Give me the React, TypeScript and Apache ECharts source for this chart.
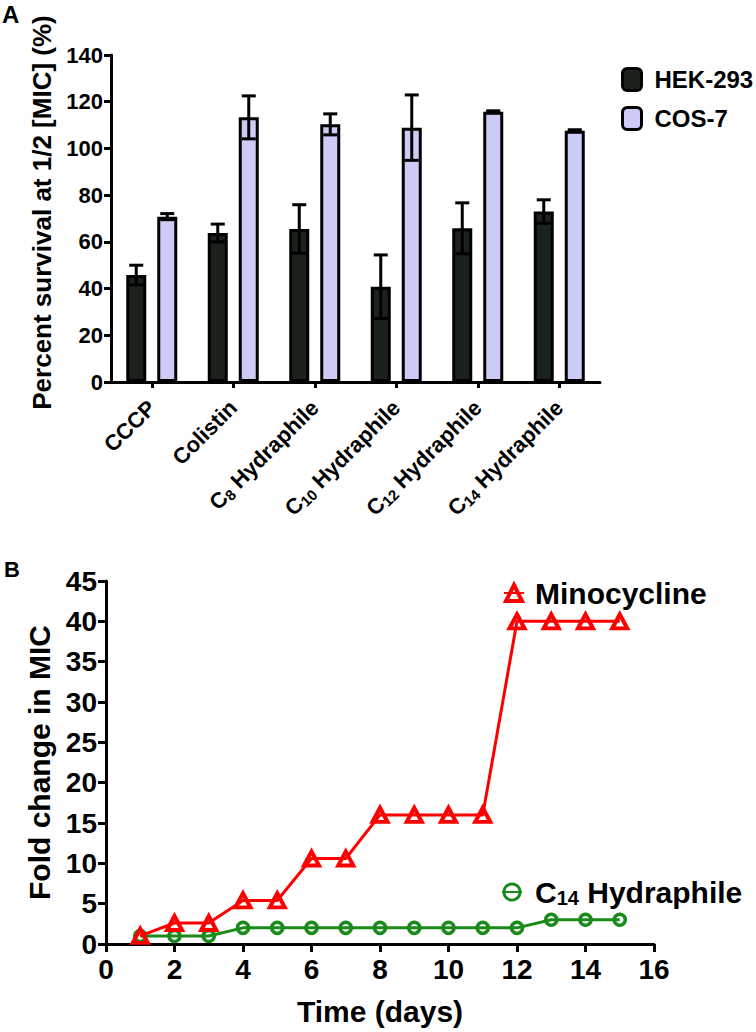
import React, { useEffect, useRef } from "react";
import * as echarts from "echarts";

const FONT = '"Liberation Sans", Arial, Helvetica, sans-serif';

// Panel A data
const categories = ["CCCP", "Colistin", "C8 Hydraphile", "C10 Hydraphile", "C12 Hydraphile", "C14 Hydraphile"];
const hekMean = [45.8, 63.8, 65.5, 40.8, 65.8, 73.0];
const hekErr = [4.2, 3.8, 10.4, 13.6, 10.9, 5.0];
const cosMean = [70.8, 113.3, 110.3, 108.9, 115.7, 107.6];
const cosErr = [1.3, 9.2, 4.5, 14.0, 0.4, 0.4];

// Panel B data
const days = [1, 2, 3, 4, 5, 6, 7, 8, 9, 10, 11, 12, 13, 14, 15];
const minocycline = [1, 2.6, 2.6, 5.4, 5.4, 10.6, 10.6, 16, 16, 16, 16, 40, 40, 40, 40];
const c14Hydraphile = [1, 1, 1, 2, 2, 2, 2, 2, 2, 2, 2, 2, 3, 3, 3];

const catFormatter = (v: string) => {
  const m = v.match(/^C(\d+) (.*)$/);
  if (m) return `{b|C}{s|${m[1]}}{b| ${m[2]}}`;
  return `{b|${v}}`;
};

function errorSeries(name: string, mean: number[], err: number[], offset: number) {
  return {
    type: "custom",
    name,
    xAxisIndex: 0,
    yAxisIndex: 0,
    z: 5,
    data: mean.map((m, i) => [i, m - err[i], m + err[i]]),
    encode: { x: 0, y: [1, 2] },
    renderItem: (params: any, api: any) => {
      const idx = api.value(0);
      const lo = api.coord([idx, api.value(1)]);
      const hi = api.coord([idx, api.value(2)]);
      const x = lo[0] + offset;
      const cap = 7;
      const style = { stroke: "#000", lineWidth: 3 };
      return {
        type: "group",
        children: [
          { type: "line", shape: { x1: x, y1: lo[1], x2: x, y2: hi[1] }, style },
          { type: "line", shape: { x1: x - cap, y1: lo[1], x2: x + cap, y2: lo[1] }, style },
          { type: "line", shape: { x1: x - cap, y1: hi[1], x2: x + cap, y2: hi[1] }, style },
        ],
      };
    },
  };
}

const axisLine = { show: true, lineStyle: { color: "#000", width: 3 } };

export default function App() {
  const ref = useRef<HTMLDivElement>(null);
  useEffect(() => {
    document.body.style.margin = "0";
    const chart = echarts.init(ref.current!, null, { renderer: "svg" });
    const option: any = {
      animation: false,
      backgroundColor: "#fff",
      textStyle: { fontFamily: FONT },
      graphic: [
        { type: "text", left: 2, top: 2, style: { text: "A", fontSize: 24, fontWeight: "bold", fontFamily: FONT, fill: "#000" } },
        { type: "text", left: 4, top: 558, style: { text: "B", fontSize: 22, fontWeight: "bold", fontFamily: FONT, fill: "#000" } },
      ],
      grid: [
        { left: 111, top: 55, width: 489, height: 327 },
        { left: 106, top: 581, width: 548, height: 363 },
      ],
      legend: [
        {
          data: ["HEK-293", "COS-7"],
          orient: "vertical",
          left: 616,
          top: 62,
          icon: "roundRect",
          itemWidth: 19,
          itemHeight: 22,
          itemGap: 14,
          itemStyle: { borderColor: "#000", borderWidth: 3 },
          textStyle: { fontSize: 24, fontWeight: "bold", fontFamily: FONT, color: "#000", lineHeight: 24, padding: [0, 0, 0, 8] },
        },
        {
          data: ["Minocycline"],
          left: 498,
          top: 572,
          itemWidth: 20,
          itemHeight: 20,
          itemStyle: { borderWidth: 4 },
          textStyle: { fontSize: 30, fontWeight: "bold", fontFamily: FONT, color: "#000", lineHeight: 32, padding: [0, 0, 0, 6] },
        },
        {
          data: ["C14 Hydraphile"],
          left: 496,
          top: 872,
          itemWidth: 20,
          itemHeight: 20,
          itemStyle: { borderWidth: 3 },
          formatter: () => "{n|C}{s|14}{n| Hydraphile}",
          textStyle: {
            color: "#000",
            padding: [0, 0, 0, 8],
            rich: {
              n: { fontSize: 30, fontWeight: "bold", fontFamily: FONT, color: "#000", lineHeight: 32 },
              s: { fontSize: 20, fontWeight: "bold", fontFamily: FONT, color: "#000", lineHeight: 20, verticalAlign: "bottom", padding: [2, 0, 0, 0] },
            },
          },
        },
      ],
      xAxis: [
        {
          type: "category",
          gridIndex: 0,
          data: categories,
          axisLine,
          axisTick: { show: true, alignWithLabel: true, length: 6, lineStyle: { color: "#000", width: 3 } },
          axisLabel: {
            rotate: 45,
            margin: 22,
            formatter: catFormatter,
            rich: {
              b: { fontSize: 22, fontWeight: "bold", fontFamily: FONT, color: "#000", lineHeight: 24 },
              s: { fontSize: 15, fontWeight: "bold", fontFamily: FONT, color: "#000", lineHeight: 15, verticalAlign: "bottom", padding: [13, 0, 0, 0] },
            },
          },
          splitLine: { show: false },
        },
        {
          type: "value",
          gridIndex: 1,
          min: 0,
          max: 16,
          interval: 2,
          axisLine,
          axisTick: { show: true, length: 8, lineStyle: { color: "#000", width: 3 } },
          axisLabel: { fontSize: 28, fontWeight: "bold", fontFamily: FONT, color: "#000", margin: 11 },
          splitLine: { show: false },
          name: "Time (days)",
          nameLocation: "middle",
          nameGap: 52,
          nameTextStyle: { fontSize: 30, fontWeight: "bold", fontFamily: FONT, color: "#000" },
        },
      ],
      yAxis: [
        {
          type: "value",
          gridIndex: 0,
          min: 0,
          max: 140,
          interval: 20,
          axisLine,
          axisTick: { show: true, length: 7, lineStyle: { color: "#000", width: 3 } },
          axisLabel: { fontSize: 22, fontWeight: "bold", fontFamily: FONT, color: "#000", margin: 8 },
          splitLine: { show: false },
          name: "Percent survival at 1/2 [MIC] (%)",
          nameLocation: "middle",
          nameGap: 54,
          nameTextStyle: { fontSize: 26, fontWeight: "bold", fontFamily: FONT, color: "#000", padding: [0, 0, 0, 12] },
        },
        {
          type: "value",
          gridIndex: 1,
          min: 0,
          max: 45,
          interval: 5,
          axisLine,
          axisTick: { show: true, length: 8, lineStyle: { color: "#000", width: 3 } },
          axisLabel: { fontSize: 28, fontWeight: "bold", fontFamily: FONT, color: "#000", margin: 9 },
          splitLine: { show: false },
          name: "Fold change in MIC",
          nameLocation: "middle",
          nameGap: 48,
          nameTextStyle: { fontSize: 30, fontWeight: "bold", fontFamily: FONT, color: "#000" },
        },
      ],
      series: [
        {
          type: "bar",
          name: "HEK-293",
          xAxisIndex: 0,
          yAxisIndex: 0,
          data: hekMean,
          barWidth: 20,
          barGap: "55%",
          itemStyle: { color: "#1b211b", borderColor: "#000", borderWidth: 3 },
        },
        {
          type: "bar",
          name: "COS-7",
          xAxisIndex: 0,
          yAxisIndex: 0,
          data: cosMean,
          barWidth: 20,
          barGap: "55%",
          itemStyle: { color: "#cbcbf5", borderColor: "#000", borderWidth: 3 },
        },
        errorSeries("HEK-293 error", hekMean, hekErr, -15.5),
        errorSeries("COS-7 error", cosMean, cosErr, 15.5),
        {
          type: "line",
          name: "Minocycline",
          xAxisIndex: 1,
          yAxisIndex: 1,
          data: days.map((d, i) => [d, minocycline[i]]),
          symbol: "triangle",
          symbolSize: [15, 14],
          lineStyle: { color: "#ff0000", width: 3 },
          itemStyle: { color: "rgba(255,255,255,0)", borderColor: "#ff0000", borderWidth: 4 },
          z: 3,
        },
        {
          type: "line",
          name: "C14 Hydraphile",
          xAxisIndex: 1,
          yAxisIndex: 1,
          data: days.map((d, i) => [d, c14Hydraphile[i]]),
          symbol: "circle",
          symbolSize: 11,
          lineStyle: { color: "#1a8a1a", width: 3 },
          itemStyle: { color: "rgba(255,255,255,0)", borderColor: "#1a8a1a", borderWidth: 3.5 },
          z: 2,
        },
      ],
    };
    chart.setOption(option);
    return () => chart.dispose();
  }, []);
  return <div ref={ref} style={{ position: "absolute", left: 0, top: 0, width: 756, height: 1032 }} />;
}
